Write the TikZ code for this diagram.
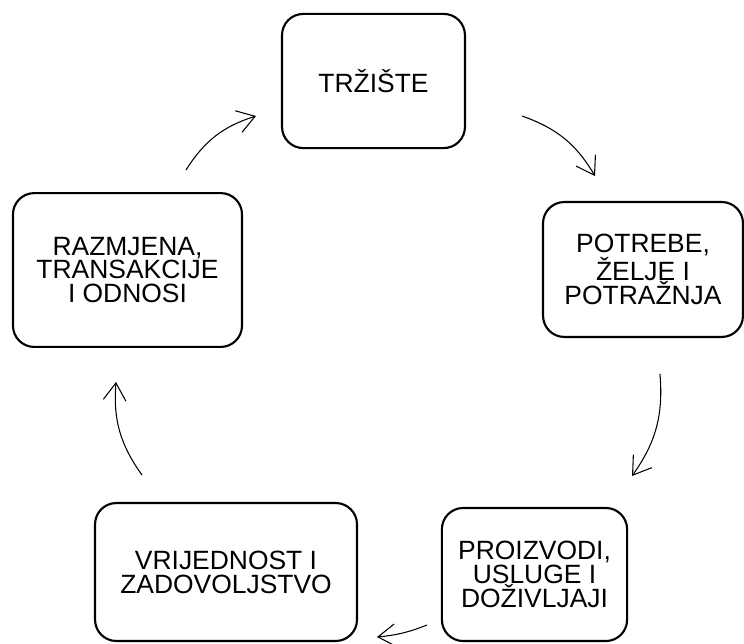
\documentclass[tikz,border=0pt]{standalone}
\usepackage{fontspec}
\setmainfont{Liberation Sans}
\usepackage{tikz}
\usetikzlibrary{arrows.meta, calc}
\tikzset{
    stage/.style = {draw, line width=1.6pt, rounded corners=16pt, align=center,
        inner sep=2pt, font=\fontsize{19.9pt}{18pt}\selectfont},
    flowarrow/.style = {line width=0.8pt, -{Straight Barb[length=13pt,width=17pt]}, bend left=#1},
    flowarrow/.default = 20,
}
\begin{document}
\begin{tikzpicture}
\useasboundingbox (0,0) rectangle (19.685,-17.039);

\node[stage, minimum width=4.84cm, minimum height=3.55cm] (trziste) at (9.882,-2.143) {TRŽIŠTE};
\node[stage, minimum width=5.29cm, minimum height=3.57cm] (potrebe) at (17.013,-7.130) {POTREBE,\\ŽELJE I\\POTRAŽNJA};
\node[stage, minimum width=4.90cm, minimum height=3.52cm] (proizvodi) at (14.142,-15.200) {PROIZVODI,\\USLUGE I\\DOŽIVLJAJI};
\node[stage, minimum width=6.93cm, minimum height=3.65cm] (vrijednost) at (5.980,-15.134) {VRIJEDNOST I\\ZADOVOLJSTVO};
\node[stage, minimum width=6.06cm, minimum height=4.07cm] (razmjena) at (3.373,-7.144) {RAZMJENA,\\TRANSAKCIJE\\I ODNOSI};

\coordinate (t-out) at (13.811,-3.069);
\coordinate (p-in) at (15.743,-4.657);
\coordinate (p-out) at (17.462,-9.895);
\coordinate (pr-in) at (16.722,-12.594);
\coordinate (pr-out) at (11.298,-16.536);
\coordinate (v-in) at (9.975,-16.854);
\coordinate (v-out) at (3.757,-12.568);
\coordinate (r-in) at (3.069,-10.107);
\coordinate (r-out) at (4.921,-4.498);
\coordinate (t-in) at (6.773,-3.069);

\draw[flowarrow] (t-out) to (p-in);
\draw[flowarrow] (p-out) to (pr-in);
\draw[flowarrow=8] (pr-out) to (v-in);
\draw[flowarrow] (v-out) to (r-in);
\draw[flowarrow] (r-out) to (t-in);
\end{tikzpicture}
\end{document}
